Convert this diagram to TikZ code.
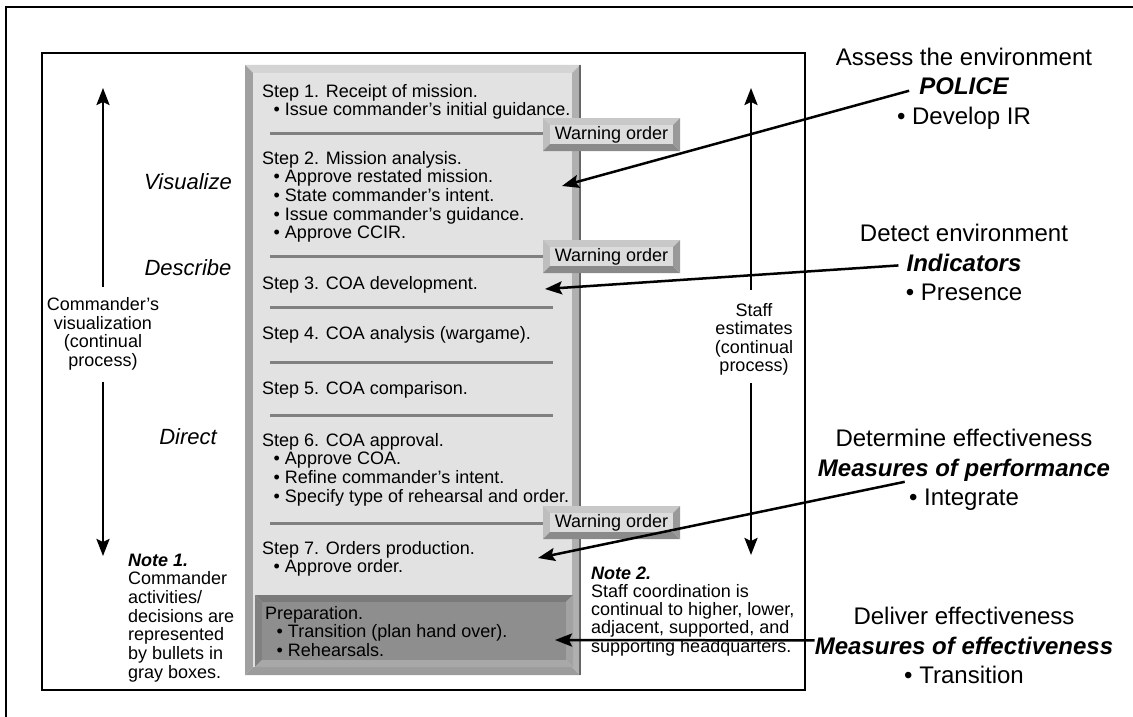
\documentclass[tikz,border=0pt]{standalone}
\usepackage{fontspec}
\setmainfont{Liberation Sans}
\usetikzlibrary{arrows.meta}
\definecolor{mainT}{HTML}{D4D4D4}
\definecolor{mainL}{HTML}{A0A0A0}
\definecolor{mainB}{HTML}{9C9C9C}
\definecolor{mainR}{HTML}{B0B0B0}
\definecolor{mainF}{HTML}{E2E2E2}
\definecolor{prepT}{HTML}{7A7A7A}
\definecolor{prepL}{HTML}{808080}
\definecolor{prepB}{HTML}{A8A8A8}
\definecolor{prepR}{HTML}{A2A2A2}
\definecolor{prepF}{HTML}{8E8E8E}
\definecolor{warnT}{HTML}{C8C8C8}
\definecolor{warnL}{HTML}{BEBEBE}
\definecolor{warnB}{HTML}{8A8A8A}
\definecolor{warnR}{HTML}{999999}
\definecolor{warnF}{HTML}{DCDCDC}
\definecolor{sepgray}{HTML}{808080}
\newcommand{\bevbox}[6]{%
  \fill[#6T] (#1,#2) -- (#3,#2) -- (#3-#5,#2+#5) -- (#1+#5,#2+#5) -- cycle;
  \fill[#6L] (#1,#2) -- (#1+#5,#2+#5) -- (#1+#5,#4-#5) -- (#1,#4) -- cycle;
  \fill[#6B] (#1,#4) -- (#1+#5,#4-#5) -- (#3-#5,#4-#5) -- (#3,#4) -- cycle;
  \fill[#6R] (#3,#2) -- (#3,#4) -- (#3-#5,#4-#5) -- (#3-#5,#2+#5) -- cycle;
  \fill[#6F] (#1+#5,#2+#5) rectangle (#3-#5,#4-#5);}
\newcommand{\stb}{\hspace*{11.5pt}•\ }
\begin{document}
\begin{tikzpicture}[x=1pt,y=-1pt,
  steptxt/.style={font=\fontsize{18}{18.7}\selectfont, align=left, inner sep=0pt, anchor=base west},
  warntxt/.style={font=\fontsize{18}{19}\selectfont, inner sep=0pt},
  sideword/.style={font=\fontsize{22}{24}\selectfont\itshape, inner sep=0pt},
  midtxt/.style={font=\fontsize{18}{18.5}\selectfont, align=center, inner sep=0pt, anchor=base},
  note1txt/.style={font=\fontsize{18}{18.7}\selectfont, align=left, inner sep=0pt, anchor=base west},
  note2txt/.style={font=\fontsize{18}{18.3}\selectfont, align=left, inner sep=0pt, anchor=base west},
  rtxt/.style={font=\fontsize{24}{28}\selectfont, inner sep=0pt, anchor=base},
  rbold/.style={font=\fontsize{24}{28}\selectfont\bfseries\itshape, inner sep=0pt, anchor=base},
  sepline/.style={draw=sepgray, line width=3pt},
  frame/.style={draw=black, line width=2.5pt},
  arr/.style={line width=2.5pt, -{Stealth[length=17pt,width=13pt,inset=3pt]}}]
\useasboundingbox (0,0) rectangle (1133,717);
\fill[white] (0,0) rectangle (1133,717);
% frames
\draw[frame] (6,717) -- (6,7) -- (1133,7);
\draw[frame] (42,53) rectangle (805,690);
% main gray column
\bevbox{245}{65}{580}{675}{8}{main}
\draw[line width=1.5pt, draw=gray!80!black] (580,65) -- (580,675);
% preparation box
\bevbox{255}{595}{573}{667}{7}{prep}
% separator lines
\draw[sepline] (270,133) -- (543,133);
\draw[sepline] (270,256) -- (543,256);
\draw[sepline] (270,307) -- (553,307);
\draw[sepline] (270,362) -- (553,362);
\draw[sepline] (270,415) -- (553,415);
\draw[sepline] (270,523) -- (543,523);
% warning order boxes
\bevbox{543}{118}{680}{151}{7}{warn}
\bevbox{543}{240}{680}{273}{7}{warn}
\bevbox{543}{506}{680}{539}{7}{warn}
\node[warntxt] (w1) at (611.5,134.5) {Warning order};
\node[warntxt] (w2) at (611.5,256.5) {Warning order};
\node[warntxt] (w3) at (611.5,522.5) {Warning order};
% steps (anchor = baseline of last line)
\node[steptxt] (s1) at (262,115.7) {Step 1. Receipt of mission.\\\stb Issue commander’s initial guidance.};
\node[steptxt] (s2) at (262,238.8) {Step 2. Mission analysis.\\\stb Approve restated mission.\\\stb State commander’s intent.\\\stb Issue commander’s guidance.\\\stb Approve CCIR.};
\node[steptxt] (s3) at (262,289) {Step 3. COA development.};
\node[steptxt] (s4) at (262,339) {Step 4. COA analysis (wargame).};
\node[steptxt] (s5) at (262,394) {Step 5. COA comparison.};
\node[steptxt] (s6) at (262,502.1) {Step 6. COA approval.\\\stb Approve COA.\\\stb Refine commander’s intent.\\\stb Specify type of rehearsal and order.};
\node[steptxt] (s7) at (262,572.7) {Step 7. Orders production.\\\stb Approve order.};
\node[steptxt] (prep) at (265,656.4) {Preparation.\\\stb Transition (plan hand over).\\\stb Rehearsals.};
% left side
\node[sideword] (vis) at (188,182) {Visualize};
\node[sideword] (des) at (188,268) {Describe};
\node[sideword] (dir) at (188,437) {Direct};
\node[midtxt] (cv) at (103,366) {Commander’s\\visualization\\(continual\\process)};
\coordinate (lup) at (103,88);
\coordinate (ldown) at (103,556);
\draw[arr] ([yshift=10pt]cv.north) -- (lup);
\draw[arr] ([yshift=-12pt]cv.south) -- (ldown);
\node[note1txt] (n1) at (128,678.2) {\textbf{\textit{Note 1.}}\\Commander\\activities/\\decisions are\\represented\\by bullets in\\gray boxes.};
% staff estimates
\node[midtxt] (se) at (754,371.5) {Staff\\estimates\\(continual\\process)};
\coordinate (sup) at (751,88);
\coordinate (sdown) at (751,555);
\draw[arr] ([xshift=-3pt,yshift=13pt]se.north) -- (sup);
\draw[arr] ([xshift=-3pt,yshift=-8pt]se.south) -- (sdown);
\node[note2txt] (n2) at (591,652.2) {\textbf{\textit{Note 2.}}\\Staff coordination is\\continual to higher, lower,\\adjacent, supported, and\\supporting headquarters.};
% right side
\node[rtxt] (assess) at (964,65.5) {Assess the environment};
\node[rbold] (police) at (964,95) {POLICE};
\node[rtxt] (devir) at (964,124.5) {• Develop IR};
\node[rtxt] (detect) at (964,241.5) {Detect environment};
\node[rbold] (ind) at (964,271) {Indicators};
\node[rtxt] (pres) at (964,300.5) {• Presence};
\node[rtxt] (determ) at (964,446.5) {Determine effectiveness};
\node[rbold] (mop) at (964,476) {Measures of performance};
\node[rtxt] (integ) at (964,505.5) {• Integrate};
\node[rtxt] (deliv) at (964,624.5) {Deliver effectiveness};
\node[rbold] (moe) at (964,654) {Measures of effectiveness};
\node[rtxt] (trans) at (964,683.5) {• Transition};
% connectors
\coordinate (t1) at (562,186);
\coordinate (t2) at (545,289);
\coordinate (t3) at (538,558);
\coordinate (t4) at (555,640);
\draw[arr] ([shift={(-10,4)}]police.west) -- (t1);
\draw[arr] ([shift={(-8,3)}]ind.west) -- (t2);
\draw[arr] ([shift={(87,12)}]mop.west) -- (t3);
\draw[arr] ([shift={(0,-5)}]moe.west) -- (t4);
\end{tikzpicture}
\end{document}
